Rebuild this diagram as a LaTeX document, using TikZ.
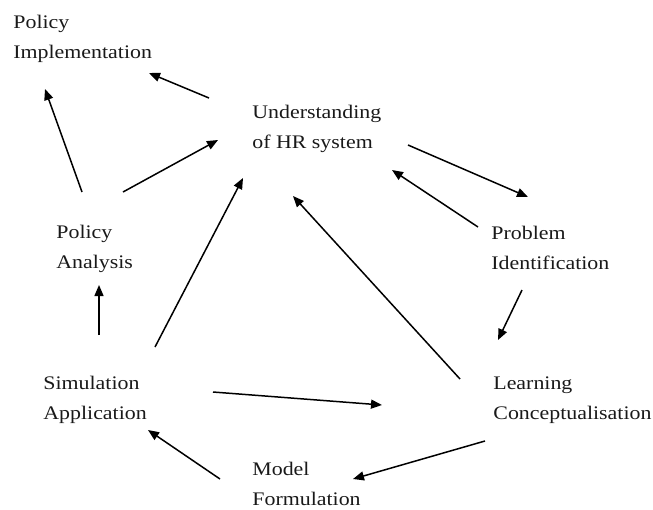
\documentclass[tikz,border=0pt]{standalone}
\usepackage{fontspec}
\setmainfont{Liberation Serif}[FakeStretch=1.14]
\usetikzlibrary{arrows.meta}

\begin{document}
\begin{tikzpicture}[x=0.5pt, y=-0.5pt,
  stage/.style={anchor=base west, align=left, inner sep=0pt, text=black!90,
    font=\fontsize{9.6}{15}\selectfont},
  flow/.style={line width=0.75pt, -{Triangle[length=5.5pt, width=4.5pt]}}]
  \useasboundingbox (0,0) rectangle (653,509);

  % stages of the cycle (anchored at the baseline of the second line)
  \node[stage] (pi)  at (13,58)  {Policy\\Implementation};
  \node[stage] (uh)  at (252,148) {Understanding\\of HR system};
  \node[stage] (pa)  at (56,268) {Policy\\Analysis};
  \node[stage] (pid) at (491,269) {Problem\\Identification};
  \node[stage] (sa)  at (43,419) {Simulation\\Application};
  \node[stage] (lc)  at (493,419) {Learning\\Conceptualisation};
  \node[stage] (mf)  at (252,505) {Model\\Formulation};

  % arrow ends
  \coordinate (t1) at (209,98);  \coordinate (h1) at (149,73);
  \coordinate (t2) at (82,192);  \coordinate (h2) at (45,89);
  \coordinate (t3) at (123,192); \coordinate (h3) at (218,140);
  \coordinate (t4) at (408,145); \coordinate (h4) at (528,197);
  \coordinate (t5) at (478,227); \coordinate (h5) at (392,170);
  \coordinate (t6) at (522,290); \coordinate (h6) at (498,340);
  \coordinate (t7) at (99,335);  \coordinate (h7) at (99,285);
  \coordinate (t8) at (155,347); \coordinate (h8) at (243,178);
  \coordinate (t9) at (460,379); \coordinate (h9) at (293,196);
  \coordinate (t10) at (213,392); \coordinate (h10) at (382,405);
  \coordinate (t11) at (485,441); \coordinate (h11) at (353,479);
  \coordinate (t12) at (220,479); \coordinate (h12) at (148,430);

  \draw[flow] (t1) -- (h1);
  \draw[flow] (t2) -- (h2);
  \draw[flow] (t3) -- (h3);
  \draw[flow] (t4) -- (h4);
  \draw[flow] (t5) -- (h5);
  \draw[flow] (t6) -- (h6);
  \draw[flow] (t7) -- (h7);
  \draw[flow] (t8) -- (h8);
  \draw[flow] (t9) -- (h9);
  \draw[flow] (t10) -- (h10);
  \draw[flow] (t11) -- (h11);
  \draw[flow] (t12) -- (h12);

\end{tikzpicture}
\end{document}
